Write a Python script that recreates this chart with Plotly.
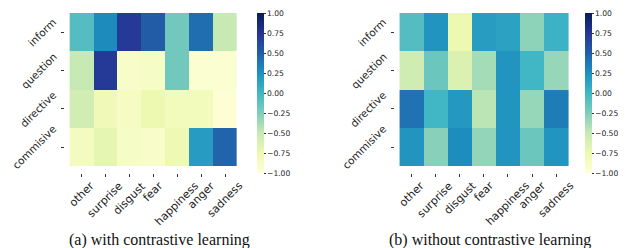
import plotly.graph_objects as go

acts = ["inform", "question", "directive", "commisive"]
emotions = ["other", "surprise", "disgust", "fear", "happiness", "anger", "sadness"]

with_cl = [
    [-0.08, 0.28, 0.72, 0.52, -0.20, 0.42, -0.50],
    [-0.50, 0.72, -0.90, -0.88, -0.20, -0.95, -0.95],
    [-0.57, -0.80, -0.86, -0.75, -0.82, -0.82, -0.97],
    [-0.85, -0.70, -0.88, -0.90, -0.77, 0.18, 0.47],
]
without_cl = [
    [-0.08, 0.22, -0.75, 0.17, 0.14, -0.30, 0.03],
    [-0.55, -0.17, -0.63, -0.38, 0.22, 0.00, -0.33],
    [0.40, 0.00, 0.20, -0.46, 0.22, -0.33, 0.35],
    [0.22, -0.28, 0.27, -0.32, 0.22, -0.17, 0.22],
]
captions = ["(a) with contrastive learning", "(b) without contrastive learning"]
cb_ticks = [-1, -0.75, -0.5, -0.25, 0, 0.25, 0.5, 0.75, 1]

ylgnbu = ["#ffffd9", "#edf8b1", "#c7e9b4", "#7fcdbb", "#41b6c4",
          "#1d91c0", "#225ea8", "#253494", "#081d58"]
cscale = [[i / 8, c] for i, c in enumerate(ylgnbu)]

# The page body has an 8px default margin, so the figure is sized to fill
# the remaining 618x240 window area; layout numbers below are window pixels.
OFF = 8
W, H = 626 - OFF, 248 - OFF


def px(xw):
    return (xw - OFF) / W


def py(yw):
    return (H - (yw - OFF)) / H


fig = go.Figure()

panels = [
    dict(z=with_cl, x0=65, x1=247, cbx=257, cap_x=159),
    dict(z=without_cl, x0=395, x1=578, cbx=585, cap_x=490),
]
ytop, ybot = 13, 173
ydom = [py(ybot), py(ytop)]
tick_text = [f"{v:.2f}".replace("-", "\u2212") for v in cb_ticks]
xlab_font = dict(family="DejaVu Sans", size=11, color="#222")
ylab_font = dict(family="DejaVu Sans", size=10.5, color="#222")

for i, p in enumerate(panels):
    xa = "x" if i == 0 else "x2"
    ya = "y" if i == 0 else "y2"
    fig.add_trace(go.Heatmap(
        z=p["z"], x=emotions, y=acts, colorscale=cscale, zmin=-1, zmax=1,
        xaxis=xa, yaxis=ya,
        colorbar=dict(
            x=px(p["cbx"]), xanchor="left", xref="paper",
            y=ydom[0], yanchor="bottom", len=ydom[1] - ydom[0], lenmode="fraction",
            thickness=7, thicknessmode="pixels", outlinewidth=0,
            tickvals=cb_ticks, ticktext=tick_text, ticks="outside", ticklen=2,
            tickcolor="#333", tickfont=dict(family="DejaVu Sans", size=7.6, color="#222"),
            xpad=0, ypad=0,
        ),
    ))
    sfx = "" if i == 0 else "2"
    fig.layout["xaxis" + sfx] = dict(
        domain=[px(p["x0"]), px(p["x1"])], anchor=ya,
        ticks="outside", ticklen=3, tickcolor="#333", showticklabels=False,
        showgrid=False, zeroline=False, showline=False,
    )
    fig.layout["yaxis" + sfx] = dict(
        domain=ydom, anchor=xa, autorange="reversed",
        ticks="outside", ticklen=3, tickcolor="#333", showticklabels=False,
        showgrid=False, zeroline=False, showline=False,
    )
    for e in emotions:
        fig.add_annotation(
            text=e, x=e, xref=xa, y=0, yref=ya + " domain",
            xanchor="center", yanchor="top", yshift=-5, textangle=-45,
            showarrow=False, font=xlab_font, borderpad=0,
        )
    for a in acts:
        fig.add_annotation(
            text=a, y=a, yref=ya, x=0, xref=xa + " domain",
            xanchor="right", yanchor="middle", xshift=-5, textangle=-45,
            showarrow=False, font=ylab_font, borderpad=0,
        )
    fig.add_annotation(
        text=captions[i], x=px(p["cap_x"]), y=py(240), xref="paper", yref="paper",
        xanchor="center", yanchor="middle", showarrow=False,
        font=dict(family="Liberation Serif", size=16, color="#111"),
    )

fig.update_layout(
    width=W, height=H, margin=dict(l=0, r=0, t=0, b=0),
    paper_bgcolor="white", plot_bgcolor="white",
)
fig.write_html("out.html", post_script="document.body.style.overflow='hidden';")
